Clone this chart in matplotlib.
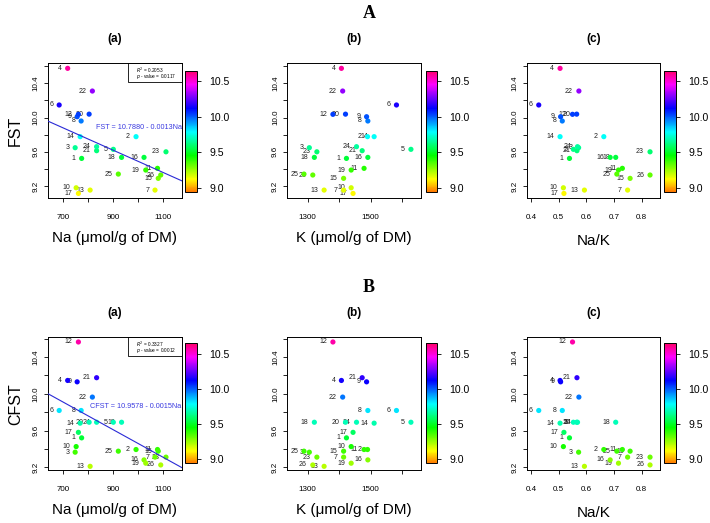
import numpy as np
import matplotlib
matplotlib.use("Agg")
import matplotlib.pyplot as plt
from matplotlib.colors import ListedColormap, Normalize, hsv_to_rgb
from matplotlib.cm import ScalarMappable
from matplotlib.patches import Rectangle

plt.rcParams['font.family'] = ['Liberation Sans', 'DejaVu Sans']

# ---------------- data (sample 1..26) ----------------
sample_ids = list(range(1, 27))
na = [773, 991, 747, 717, 900, 683, 1067, 771, 755, 751, 1077, 760, 807,
      767, 1080, 1023, 760, 933, 1030, 803, 833, 816, 1111, 833, 920, 1090]
k = [1423, 1490, 1305, 1407, 1628, 1582, 1414, 1491, 1487, 1438, 1479, 1380, 1352,
     1511, 1414, 1491, 1444, 1321, 1438, 1420, 1473, 1411, 1329, 1455, 1288, 1316]
na_k = [0.539, 0.663, 0.572, 0.505, 0.553, 0.428, 0.749, 0.513, 0.507, 0.517, 0.730, 0.550, 0.593,
        0.505, 0.758, 0.686, 0.519, 0.706, 0.716, 0.565, 0.566, 0.573, 0.830, 0.568, 0.710, 0.830]
fst = [9.523, 9.777, 9.648, 10.575, 9.629, 10.147, 9.153, 9.960, 10.010, 9.180, 9.407, 10.038, 9.153,
       9.777, 9.290, 9.535, 9.114, 9.535, 9.387, 10.040, 9.613, 10.310, 9.600, 9.660, 9.340, 9.329]
cfst = [9.520, 9.393, 9.364, 10.145, 9.690, 9.818, 9.310, 9.818, 10.130, 9.425, 9.393, 10.564, 9.210,
        9.680, 9.375, 9.280, 9.580, 9.690, 9.244, 9.690, 10.175, 9.964, 9.310, 9.690, 9.375, 9.225]

x_labels = ["Na (\u03bcmol/g of DM)", "K (\u03bcmol/g of DM)", "Na/K"]
panel_tags = ["(a)", "(b)", "(c)"]
row_titles = ["A", "B"]
row_ylabels = ["FST", "CFST"]

fst_fit = (10.7880, -0.0013)
cfst_fit = (10.9578, -0.0015)
fst_eq = "FST = 10.7880 - 0.0013Na"
cfst_eq = "CFST = 10.9578 - 0.0015Na"
fst_stats = ("0.2053", "0.0117")
cfst_stats = ("0.3327", "0.0012")

cbar_ticks = [9.0, 9.5, 10.0, 10.5]

# ---------------- colour scale (rainbow) ----------------
vmin, vmax = 8.944, 10.645
hues = np.linspace(0.08, 0.93, 256)
cmap = ListedColormap(hsv_to_rgb(np.stack([hues, np.ones_like(hues), np.ones_like(hues)], axis=1)))
norm = Normalize(vmin, vmax)

W, H = 710, 523
fig = plt.figure(figsize=(W / 100, H / 100), dpi=100)


def px_axes(l, t, r, b):
    return fig.add_axes([l / W, 1 - b / H, (r - l) / W, (b - t) / H])


def ftext(x, y, s, **kw):
    fig.text(x / W, 1 - y / H, s, **kw)


col_box = [(47.7, 181.7), (287.3, 421.0), (526.7, 660.0)]
col_cbar = [(185.3, 196.7), (425.7, 436.7), (664.3, 676.0)]
row_box = [(63.3, 197.7), (337.3, 470.0)]
row_cbar = [(70.7, 191.7), (343.3, 463.3)]
row_title_y = [13.5, 287.0]

xlims = [(637, 1174), (1235, 1660), (0.3845, 0.866)]
ylims = [(9.064, 10.634), (9.17, 10.615)]
xticks = [[700, 800, 900, 1000, 1100], [1300, 1400, 1500, 1600], [0.4, 0.5, 0.6, 0.7, 0.8]]
xticklabels = [["700", "", "900", "", "1100"], ["1300", "", "1500", ""],
               ["0.4", "0.5", "0.6", "0.7", "0.8"]]
yticks = [9.2, 9.4, 9.6, 9.8, 10.0, 10.2, 10.4, 10.6]
yticklabels = ["9.2", "", "9.6", "", "10.0", "", "10.4", ""]

xdata = [na, k, na_k]
ydata = [fst, cfst]
fits = [fst_fit, cfst_fit]
eqs = [fst_eq, cfst_eq]
eq_pos = [(1003, 9.885), (989, 9.862)]
stats = [fst_stats, cfst_stats]

for r in range(2):
    t, b = row_box[r]
    ftext(369, row_title_y[r], row_titles[r], ha='center', va='center',
          fontsize=13, fontweight='bold', family=['Liberation Serif', 'DejaVu Serif'])
    yv = np.array(ydata[r])
    for c in range(3):
        l, rr = col_box[c]
        ax = px_axes(l, t, rr, b)
        xv = np.array(xdata[c])
        for i, sid in enumerate(sample_ids):
            ax.annotate(str(sid), (xv[i], yv[i]), xytext=(-4.3, 0), textcoords='offset points',
                        ha='right', va='center', fontsize=5, color='#222222', zorder=2)
        ax.scatter(xv, yv, c=yv, cmap=cmap, norm=norm, s=14, edgecolors='none', zorder=3)
        ax.set_xlim(*xlims[c])
        ax.set_ylim(*ylims[r])
        ax.set_xticks(xticks[c])
        ax.set_xticklabels(xticklabels[c])
        ax.set_yticks(yticks)
        ax.set_yticklabels(yticklabels, rotation=90, va='center')
        ax.tick_params(axis='x', direction='out', length=3, width=0.6, labelsize=5.8, pad=8.5)
        ax.tick_params(axis='y', direction='out', length=3, width=0.6, labelsize=5.8, pad=3)
        for sp in ax.spines.values():
            sp.set_linewidth(0.7)
        if c == 0:
            a0, a1 = fits[r]
            xs = np.array(xlims[c], dtype=float)
            ax.plot(xs, a0 + a1 * xs, color='#2a2ad6', lw=0.8, zorder=4)
            ax.text(eq_pos[r][0], eq_pos[r][1], eqs[r], ha='center', va='center',
                    fontsize=5.2, color='#3a3ae0', zorder=5)
            ax.add_patch(Rectangle((0.60, 0.862), 0.40, 0.138, transform=ax.transAxes,
                                   fill=False, lw=0.6, ec='black', zorder=5))
            ax.text(0.66, 0.945, r"$R^2$ = " + stats[r][0], transform=ax.transAxes,
                    fontsize=3.4, ha='left', va='center', zorder=6)
            ax.text(0.66, 0.902, r"$p$ - value = " + stats[r][1], transform=ax.transAxes,
                    fontsize=3.4, ha='left', va='center', zorder=6)
            ftext(15.3, (t + b) / 2, row_ylabels[r], rotation=90, ha='center', va='center',
                  fontsize=11.5)
        # panel tag
        ftext((l + rr) / 2, t - 24, panel_tags[c], ha='center', va='center',
              fontsize=8.5, fontweight='bold')
        # x label
        ylab = b + (43 if c == 2 else 40)
        ftext((l + rr) / 2, ylab, x_labels[c], ha='center', va='center', fontsize=11)
        # colorbar
        cl, cr = col_cbar[c]
        ct, cb = row_cbar[r]
        cax = px_axes(cl, ct, cr, cb)
        cb_obj = fig.colorbar(ScalarMappable(norm=norm, cmap=cmap), cax=cax)
        cb_obj.set_ticks(cbar_ticks)
        cb_obj.set_ticklabels([f"{v:.1f}" for v in cbar_ticks])
        cb_obj.outline.set_linewidth(0.7)
        cax.tick_params(length=3, width=0.6, labelsize=7.6, pad=6)

fig.savefig("out.png", dpi=100)
